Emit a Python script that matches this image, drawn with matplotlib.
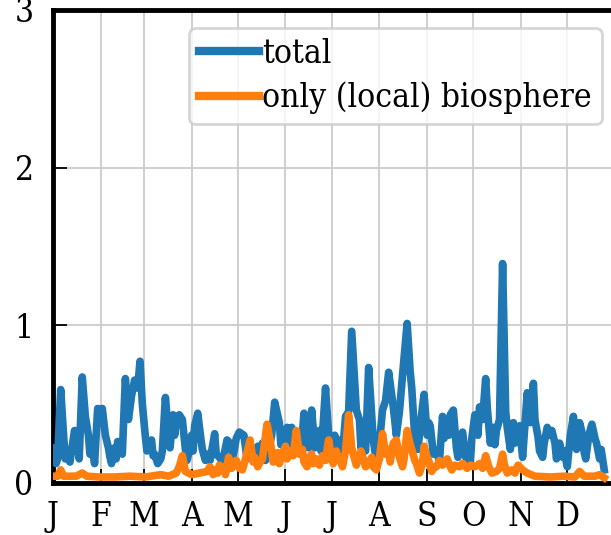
import matplotlib
matplotlib.use('Agg')
import matplotlib.pyplot as plt

# month labels at the first day of each month
months = ['J', 'F', 'M', 'A', 'M', 'J', 'J', 'A', 'S', 'O', 'N', 'D']
month_start = [0, 31, 59, 90, 120, 151, 181, 212, 243, 273, 304, 334]

# total signal (day of year, value)
total_day = [1, 2, 3, 5, 7, 8, 9, 11, 12, 14,
             16, 17, 19, 21, 23, 24, 25, 27, 29, 31,
             32, 34, 36, 37, 38, 40, 41, 42, 44, 45,
             47, 49, 51, 53, 55, 56.5, 58, 60, 61, 62,
             64, 65, 66, 68, 70, 71, 73, 75, 76, 78,
             79, 80, 82, 84, 86, 87, 88, 90, 91, 92,
             94, 96, 97, 99, 100, 102, 105, 106, 108, 110,
             112, 113, 115, 117, 118, 119, 121, 124, 126, 127,
             129, 130, 131, 133, 135, 136, 138, 140, 142, 144,
             147, 148, 150, 152, 154, 155, 157, 158, 160, 161,
             163, 166, 168, 170, 171, 173, 174, 175, 177, 179,
             180, 182, 183, 185, 186, 188, 190, 192, 194, 197,
             199, 200, 201, 203, 205, 208, 210, 212, 214, 216,
             218, 221, 223, 225, 227, 230, 232, 233, 235, 237,
             239, 241, 243, 244, 245, 247, 248, 251, 253, 254,
             256, 257, 258, 260, 262, 263, 264, 266, 268, 269,
             271, 272, 274, 276, 277, 279, 281, 282, 284, 286,
             287, 288, 290, 292, 294, 295, 297, 299, 300, 301,
             303, 305, 306, 308, 310, 312, 313, 315, 316, 318,
             319, 321, 323, 324, 326, 327, 329, 331, 332, 334,
             336, 338, 340, 342, 344, 345, 346, 348, 350, 352,
             353, 355, 356, 358]
total_val = [0.22, 0.12, 0.15, 0.59, 0.28, 0.15, 0.17, 0.13, 0.20, 0.33,
             0.24, 0.15, 0.67, 0.42, 0.30, 0.18, 0.26, 0.12, 0.47, 0.45,
             0.47, 0.30, 0.22, 0.16, 0.12, 0.22, 0.15, 0.26, 0.24, 0.18,
             0.66, 0.40, 0.55, 0.65, 0.60, 0.77, 0.50, 0.29, 0.20, 0.25,
             0.27, 0.17, 0.18, 0.12, 0.15, 0.20, 0.54, 0.30, 0.22, 0.43,
             0.30, 0.38, 0.43, 0.40, 0.21, 0.14, 0.18, 0.30, 0.20, 0.36,
             0.44, 0.28, 0.21, 0.14, 0.18, 0.14, 0.31, 0.18, 0.16, 0.13,
             0.22, 0.27, 0.25, 0.17, 0.22, 0.28, 0.32, 0.30, 0.15, 0.21,
             0.20, 0.16, 0.13, 0.23, 0.19, 0.25, 0.14, 0.20, 0.30, 0.51,
             0.38, 0.24, 0.30, 0.35, 0.22, 0.35, 0.26, 0.22, 0.30, 0.18,
             0.44, 0.22, 0.46, 0.22, 0.28, 0.33, 0.20, 0.30, 0.60, 0.30,
             0.24, 0.17, 0.30, 0.20, 0.27, 0.18, 0.42, 0.45, 0.96, 0.46,
             0.40, 0.22, 0.28, 0.20, 0.73, 0.27, 0.14, 0.25, 0.46, 0.52,
             0.70, 0.48, 0.30, 0.45, 0.68, 1.01, 0.70, 0.60, 0.28, 0.21,
             0.40, 0.56, 0.30, 0.38, 0.36, 0.18, 0.21, 0.14, 0.42, 0.28,
             0.40, 0.30, 0.43, 0.46, 0.22, 0.16, 0.26, 0.32, 0.16, 0.20,
             0.12, 0.28, 0.43, 0.30, 0.48, 0.40, 0.66, 0.48, 0.25, 0.35,
             0.24, 0.33, 0.40, 1.39, 0.45, 0.35, 0.21, 0.38, 0.25, 0.32,
             0.36, 0.16, 0.30, 0.57, 0.38, 0.63, 0.40, 0.29, 0.20, 0.16,
             0.25, 0.35, 0.30, 0.33, 0.25, 0.15, 0.25, 0.16, 0.20, 0.10,
             0.30, 0.42, 0.21, 0.38, 0.30, 0.19, 0.15, 0.30, 0.37, 0.28,
             0.25, 0.15, 0.21, 0.08]

# contribution of the (local) biosphere
bio_day = [0, 3, 5, 7, 15, 19, 22, 30, 40, 50,
           60, 70, 75, 80, 82, 84, 86, 90, 95, 100,
           102, 104, 105, 107, 108, 111, 112, 114, 116, 117,
           119, 121, 123, 125, 128, 130, 131, 133, 134, 136,
           137, 139, 141, 143, 144, 146, 147, 149, 151, 152,
           154, 156, 158, 160, 162, 163, 165, 166, 168, 169,
           171, 173, 175, 177, 179, 181, 182, 184, 185, 187,
           188, 190, 192, 194, 195, 197, 198, 200, 201, 203,
           205, 207, 208, 210, 212, 214, 216, 218, 219, 221,
           223, 225, 227, 228, 230, 232, 233, 235, 236, 238,
           240, 241, 243, 244, 246, 247, 249, 251, 253, 256,
           258, 259, 261, 264, 266, 269, 271, 274, 277, 279,
           281, 283, 285, 288, 290, 292, 293, 295, 298, 300,
           302, 305, 308, 313, 323, 332, 339, 342, 345, 352,
           355, 358]
bio_val = [0.04, 0.04, 0.08, 0.04, 0.04, 0.06, 0.04, 0.035, 0.035, 0.04,
           0.035, 0.05, 0.04, 0.06, 0.10, 0.17, 0.07, 0.05, 0.06, 0.07,
           0.10, 0.05, 0.08, 0.06, 0.11, 0.09, 0.05, 0.16, 0.09, 0.13,
           0.14, 0.09, 0.08, 0.15, 0.27, 0.13, 0.16, 0.10, 0.12, 0.15,
           0.22, 0.37, 0.27, 0.13, 0.16, 0.19, 0.12, 0.18, 0.23, 0.15,
           0.20, 0.17, 0.33, 0.18, 0.21, 0.13, 0.10, 0.15, 0.18, 0.12,
           0.15, 0.11, 0.17, 0.14, 0.27, 0.15, 0.12, 0.20, 0.16, 0.13,
           0.10, 0.20, 0.43, 0.22, 0.18, 0.11, 0.14, 0.20, 0.17, 0.10,
           0.12, 0.16, 0.10, 0.08, 0.15, 0.31, 0.18, 0.21, 0.13, 0.25,
           0.27, 0.16, 0.10, 0.15, 0.33, 0.24, 0.21, 0.14, 0.12, 0.06,
           0.12, 0.23, 0.16, 0.14, 0.07, 0.09, 0.10, 0.14, 0.11, 0.15,
           0.10, 0.08, 0.11, 0.10, 0.12, 0.09, 0.11, 0.10, 0.12, 0.09,
           0.17, 0.10, 0.06, 0.07, 0.09, 0.18, 0.12, 0.06, 0.08, 0.06,
           0.11, 0.08, 0.06, 0.04, 0.035, 0.04, 0.035, 0.07, 0.04, 0.04,
           0.05, 0.03]

plt.rcParams['font.family'] = 'DejaVu Serif'
plt.rcParams['font.stretch'] = 'condensed'
plt.rcParams['font.size'] = 24

fig = plt.figure(figsize=(6.11, 5.35), dpi=100)
ax = fig.add_axes([53 / 611, 52.5 / 535, 562 / 611, 472.5 / 535])

ax.plot(total_day, total_val, color='#1f77b4', lw=5.5, label='total', zorder=3)
ax.plot(bio_day, bio_val, color='#ff7f0e', lw=5.5, label='only (local) biosphere', zorder=4)

ax.set_xlim(0, 365)
ax.set_ylim(0, 3)
ax.set_xticks(month_start)
ax.set_xticklabels(months)
ax.set_yticks([0, 1, 2, 3])

ax.grid(True, color='#cccccc', lw=1.3)
ax.set_axisbelow(True)
for side in ['left', 'bottom', 'top', 'right']:
    ax.spines[side].set_linewidth(3.5)
ax.tick_params(direction='in', length=10, width=1.3, labelsize=24)
ax.tick_params(axis='x', pad=13)
ax.tick_params(axis='y', pad=14)

leg = ax.legend(loc='upper left', bbox_to_anchor=(189 / 611, 1 - 28 / 535),
                bbox_transform=fig.transFigure, borderaxespad=0, fancybox=True,
                framealpha=0.8, edgecolor='#cccccc', handlelength=1.8, handletextpad=0.1,
                labelspacing=0.35, borderpad=0.3, fontsize=24)
leg.get_frame().set_linewidth(2)
for line in leg.get_lines():
    line.set_linewidth(6)

fig.savefig('out.png', dpi=100)
